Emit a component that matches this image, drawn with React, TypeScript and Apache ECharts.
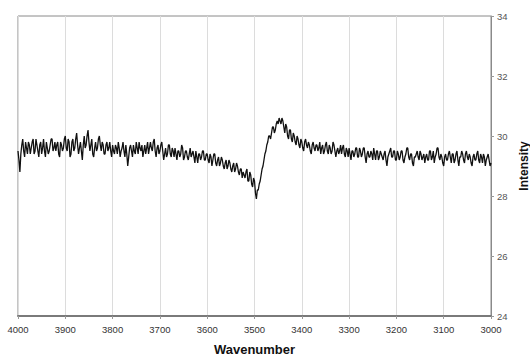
import React, { useEffect, useRef } from "react";
import * as echarts from "echarts";

const wavenumberStart = 4000;
const wavenumberStep = 2;

const intensity: number[] = [
  29.5, 29.2, 28.8, 29.4, 29.7, 29.9, 29.5, 29.3, 29.8, 29.6, 29.4, 29.8, 29.7, 29.4, 29.6, 29.8, 29.9, 29.4, 29.5, 29.9,
  29.7, 29.5, 29.3, 29.7, 29.8, 29.4, 29.6, 29.9, 29.5, 29.3, 29.8, 29.6, 29.4, 29.5, 29.7, 29.9, 29.9, 29.5, 29.6, 29.8,
  29.5, 29.7, 29.8, 29.4, 29.3, 29.8, 29.7, 29.5, 29.6, 29.9, 30.0, 29.6, 29.5, 29.9, 29.8, 29.3, 29.4, 29.8, 29.9, 29.5,
  29.6, 29.9, 30.1, 29.7, 29.4, 29.6, 29.8, 29.5, 29.2, 29.7, 30.0, 29.6, 29.7, 30.0, 30.2, 29.8, 29.5, 29.7, 29.9, 29.4,
  29.3, 29.6, 29.8, 29.5, 29.6, 29.9, 30.0, 29.7, 29.5, 29.8, 29.7, 29.4, 29.4, 29.7, 29.8, 29.5, 29.6, 29.8, 29.5, 29.3,
  29.7, 29.5, 29.4, 29.7, 29.6, 29.4, 29.8, 29.6, 29.3, 29.5, 29.6, 29.8, 29.5, 29.3, 29.7, 29.4, 29.0, 29.3, 29.6, 29.7,
  29.5, 29.3, 29.7, 29.5, 29.4, 29.8, 29.6, 29.4, 29.8, 29.6, 29.5, 29.7, 29.3, 29.5, 29.7, 29.4, 29.6, 29.8, 29.4, 29.6,
  29.8, 29.6, 29.5, 29.8, 29.9, 29.5, 29.3, 29.6, 29.7, 29.4, 29.5, 29.7, 29.8, 29.5, 29.2, 29.4, 29.6, 29.3, 29.4, 29.7,
  29.7, 29.4, 29.3, 29.6, 29.5, 29.3, 29.6, 29.4, 29.2, 29.5, 29.5, 29.3, 29.4, 29.7, 29.6, 29.2, 29.3, 29.5, 29.5, 29.3,
  29.2, 29.4, 29.6, 29.3, 29.4, 29.5, 29.3, 29.1, 29.5, 29.3, 29.1, 29.4, 29.4, 29.2, 29.3, 29.5, 29.5, 29.2, 29.2, 29.4,
  29.4, 29.2, 29.1, 29.4, 29.3, 29.0, 29.2, 29.4, 29.4, 29.1, 29.0, 29.2, 29.3, 29.0, 29.1, 29.3, 29.2, 29.0, 28.9, 29.1,
  29.2, 28.9, 29.0, 29.2, 29.1, 28.9, 28.8, 29.0, 29.1, 28.8, 28.9, 29.1, 29.0, 28.8, 28.7, 28.9, 28.9, 28.6, 28.8, 28.7,
  28.6, 28.8, 28.9, 28.5, 28.5, 28.8, 28.7, 28.4, 28.3, 28.6, 28.5, 28.1, 27.9, 28.2, 28.2, 28.4, 28.5, 28.7, 28.9, 29.0,
  29.2, 29.4, 29.5, 29.7, 29.8, 30.0, 30.0, 29.9, 30.1, 30.3, 30.3, 30.1, 30.2, 30.4, 30.5, 30.4, 30.6, 30.5, 30.4, 30.6,
  30.5, 30.3, 30.1, 30.4, 30.3, 30.0, 29.9, 30.2, 30.2, 29.9, 29.8, 30.1, 30.0, 29.8, 29.7, 30.0, 29.9, 29.7, 29.6, 29.9,
  29.8, 29.6, 29.5, 29.8, 29.9, 29.7, 29.6, 29.8, 29.7, 29.5, 29.4, 29.7, 29.8, 29.6, 29.5, 29.7, 29.7, 29.5, 29.6, 29.8,
  29.4, 29.6, 29.7, 29.4, 29.5, 29.7, 29.8, 29.5, 29.4, 29.7, 29.6, 29.4, 29.5, 29.8, 29.7, 29.5, 29.3, 29.5, 29.6, 29.4,
  29.5, 29.7, 29.4, 29.6, 29.7, 29.4, 29.3, 29.6, 29.5, 29.3, 29.6, 29.4, 29.2, 29.5, 29.5, 29.3, 29.4, 29.6, 29.6, 29.3,
  29.3, 29.6, 29.5, 29.3, 29.4, 29.6, 29.6, 29.3, 29.1, 29.4, 29.5, 29.3, 29.3, 29.5, 29.4, 29.2, 29.6, 29.4, 29.2, 29.5,
  29.5, 29.2, 29.3, 29.5, 29.4, 29.3, 29.2, 29.4, 29.5, 29.2, 29.0, 29.3, 29.4, 29.5, 29.6, 29.3, 29.3, 29.5, 29.5, 29.2,
  29.2, 29.5, 29.4, 29.2, 29.3, 29.5, 29.5, 29.2, 29.1, 29.3, 29.4, 29.6, 29.6, 29.3, 29.2, 29.4, 29.4, 29.1, 29.0, 29.3,
  29.3, 29.4, 29.5, 29.3, 29.2, 29.5, 29.4, 29.2, 29.3, 29.4, 29.1, 29.3, 29.4, 29.2, 29.2, 29.5, 29.5, 29.2, 29.3, 29.5,
  29.1, 29.3, 29.4, 29.6, 29.6, 29.3, 29.2, 29.4, 29.3, 29.1, 29.0, 29.3, 29.4, 29.2, 29.2, 29.4, 29.5, 29.3, 29.1, 29.4,
  29.4, 29.1, 29.2, 29.4, 29.5, 29.2, 29.0, 29.3, 29.3, 29.5, 29.4, 29.2, 29.1, 29.4, 29.5, 29.3, 29.2, 29.4, 29.3, 29.1,
  29.0, 29.3, 29.4, 29.2, 29.2, 29.4, 29.5, 29.2, 29.1, 29.4, 29.3, 29.1, 29.4, 29.3, 29.0, 29.2, 29.3, 29.4, 29.2, 29.0,
  29.1,
];

const xTickMin = 3000;
const xTickMax = 4000;
const xTickInterval = 100;
const yTickMin = 24;
const yTickMax = 34;
const yTickInterval = 2;

export default function App() {
  const ref = useRef<HTMLDivElement>(null);
  useEffect(() => {
    if (!ref.current) return;
    const chart = echarts.init(ref.current, undefined, { renderer: "svg" });
    const data = intensity.map((v, i) => [wavenumberStart - i * wavenumberStep, v]);
    chart.setOption({
      animation: false,
      backgroundColor: "#ffffff",
      textStyle: { fontFamily: "Liberation Sans, Arial, sans-serif" },
      grid: {
        left: 18,
        right: 39,
        top: 16,
        bottom: 42,
        show: true,
        borderColor: "#8a8a8a",
        borderWidth: 1,
        outerBoundsMode: "none",
        containLabel: false,
      },
      xAxis: {
        type: "value",
        inverse: true,
        min: xTickMin,
        max: xTickMax,
        interval: xTickInterval,
        name: "Wavenumber",
        nameLocation: "middle",
        nameGap: 27,
        nameTextStyle: { fontSize: 13, fontWeight: "bold", color: "#111" },
        axisLine: { show: true, lineStyle: { color: "#7a7a7a", width: 2 } },
        axisTick: { show: true, length: 3, lineStyle: { color: "#999" } },
        axisLabel: { fontSize: 9.5, color: "#333", margin: 8, formatter: (v: number) => String(v) },
        splitLine: { show: true, lineStyle: { color: "#dcdcdc", width: 1 } },
      },
      yAxis: {
        type: "value",
        position: "right",
        min: yTickMin,
        max: yTickMax,
        interval: yTickInterval,
        name: "Intensity",
        nameLocation: "middle",
        nameRotate: 90,
        nameGap: 23,
        nameTextStyle: { fontSize: 12, fontWeight: "bold", color: "#111" },
        axisLine: { show: true, lineStyle: { color: "#8a8a8a", width: 1 } },
        axisTick: { show: true, length: 3, lineStyle: { color: "#999" } },
        axisLabel: { fontSize: 9.5, color: "#555", margin: 6, formatter: (v: number) => String(v) },
        splitLine: { show: false },
      },
      series: [
        {
          type: "line",
          data,
          showSymbol: false,
          symbol: "none",
          lineStyle: { color: "#111", width: 1.3 },
        },
      ],
    });
    return () => chart.dispose();
  }, []);
  return <div ref={ref} style={{ width: 530, height: 358, position: "absolute", left: 0, top: 0 }} />;
}
